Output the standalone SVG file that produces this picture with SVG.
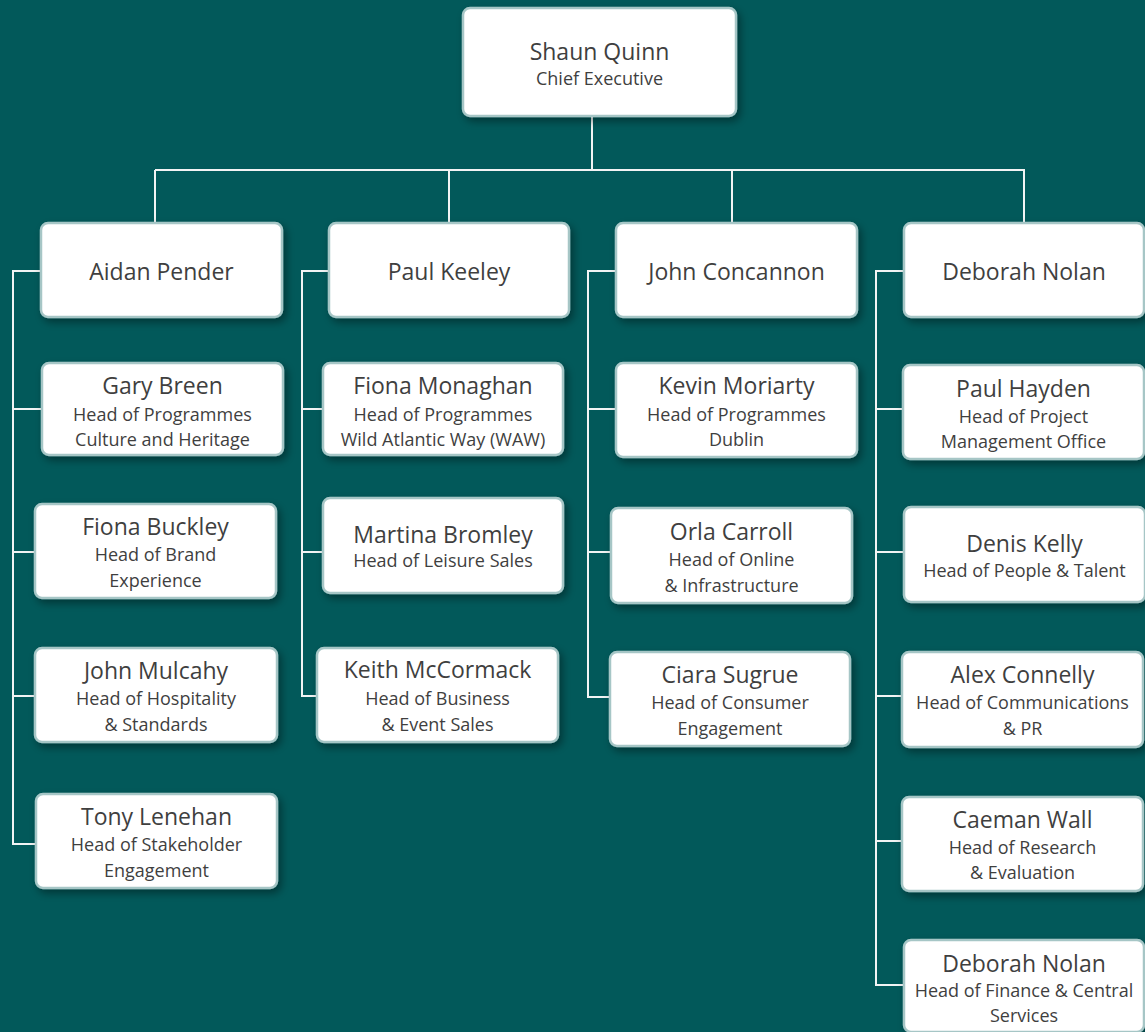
<svg xmlns="http://www.w3.org/2000/svg" width="1145" height="1032" viewBox="0 0 1145 1032">
<defs>
<filter id="sh" x="-10%" y="-10%" width="125%" height="135%">
<feDropShadow dx="3" dy="4" stdDeviation="4" flood-color="#000" flood-opacity="0.4"/>
</filter>
<style>
.box{fill:#fff;stroke:#a6c6c6;stroke-width:2.5;filter:url(#sh)}
.nm{font-family:"Open Sans","Noto Sans",sans-serif;font-size:23px;fill:#3f3f3f;text-anchor:middle}
.tl{font-family:"Open Sans","Noto Sans",sans-serif;font-size:18px;fill:#3f3f3f;text-anchor:middle}
.cn{fill:none;stroke:#f2f4f4;stroke-width:2}
</style>
</defs>
<rect width="1145" height="1032" fill="#02595a"/>
<g id="connectors">
<path class="cn" d="M592 116V170M155 170H1025M155 170V223M449 170V223M732 170V223M1024 170V223"/>
<path class="cn" d="M41 271H13V844H36M13 409H42M13 552H35M13 696H35"/>
<path class="cn" d="M329 271H302V696H317M302 409H323M302 552H323"/>
<path class="cn" d="M616 271H588V697H610M588 409H616M588 552H611"/>
<path class="cn" d="M904 271H876V985H904M876 409H903M876 552H904M876 696H902M876 841H902"/>
</g>
<g id="n-quinn"><rect class="box" x="463" y="8" width="273" height="108" rx="7"/><text class="nm" x="599.5" y="60">Shaun Quinn</text><text class="tl" x="599.5" y="85">Chief Executive</text></g>
<g id="n-pender"><rect class="box" x="41" y="223" width="241" height="94" rx="7"/><text class="nm" x="161.5" y="280">Aidan Pender</text></g>
<g id="n-keeley"><rect class="box" x="329" y="223" width="240" height="94" rx="7"/><text class="nm" x="449" y="280">Paul Keeley</text></g>
<g id="n-concannon"><rect class="box" x="616" y="223" width="241" height="94" rx="7"/><text class="nm" x="736.5" y="280">John Concannon</text></g>
<g id="n-nolan"><rect class="box" x="904" y="223" width="240" height="94" rx="7"/><text class="nm" x="1024" y="280">Deborah Nolan</text></g>

<g id="n-breen"><rect class="box" x="42" y="363" width="241" height="92" rx="7"/><text class="nm" x="162.5" y="394">Gary Breen</text><text class="tl" x="162.5" y="421">Head of Programmes</text><text class="tl" x="162.5" y="446">Culture and Heritage</text></g>
<g id="n-buckley"><rect class="box" x="35" y="504" width="241" height="94" rx="7"/><text class="nm" x="155.5" y="535">Fiona Buckley</text><text class="tl" x="155.5" y="561">Head of Brand</text><text class="tl" x="155.5" y="587">Experience</text></g>
<g id="n-mulcahy"><rect class="box" x="35" y="648" width="242" height="94" rx="7"/><text class="nm" x="156" y="679">John Mulcahy</text><text class="tl" x="156" y="705">Head of Hospitality</text><text class="tl" x="156" y="731">&amp; Standards</text></g>
<g id="n-lenehan"><rect class="box" x="36" y="794" width="241" height="94" rx="7"/><text class="nm" x="156.5" y="825">Tony Lenehan</text><text class="tl" x="156.5" y="851">Head of Stakeholder</text><text class="tl" x="156.5" y="877">Engagement</text></g>

<g id="n-monaghan"><rect class="box" x="323" y="363" width="240" height="92" rx="7"/><text class="nm" x="443" y="394">Fiona Monaghan</text><text class="tl" x="443" y="421">Head of Programmes</text><text class="tl" x="443" y="446">Wild Atlantic Way (WAW)</text></g>
<g id="n-bromley"><rect class="box" x="323" y="498" width="240" height="95" rx="7"/><text class="nm" x="443" y="543">Martina Bromley</text><text class="tl" x="443" y="567">Head of Leisure Sales</text></g>
<g id="n-mccormack"><rect class="box" x="317" y="648" width="241" height="94" rx="7"/><text class="nm" x="437.5" y="678">Keith McCormack</text><text class="tl" x="437.5" y="705">Head of Business</text><text class="tl" x="437.5" y="731">&amp; Event Sales</text></g>

<g id="n-moriarty"><rect class="box" x="616" y="363" width="241" height="94" rx="7"/><text class="nm" x="736.5" y="394">Kevin Moriarty</text><text class="tl" x="736.5" y="421">Head of Programmes</text><text class="tl" x="736.5" y="446">Dublin</text></g>
<g id="n-carroll"><rect class="box" x="611" y="508" width="241" height="95" rx="7"/><text class="nm" x="731.5" y="540">Orla Carroll</text><text class="tl" x="731.5" y="566">Head of Online</text><text class="tl" x="731.5" y="592">&amp; Infrastructure</text></g>
<g id="n-sugrue"><rect class="box" x="610" y="652" width="240" height="94" rx="7"/><text class="nm" x="730" y="683">Ciara Sugrue</text><text class="tl" x="730" y="709">Head of Consumer</text><text class="tl" x="730" y="735">Engagement</text></g>

<g id="n-hayden"><rect class="box" x="903" y="365" width="241" height="94" rx="7"/><text class="nm" x="1023.5" y="397">Paul Hayden</text><text class="tl" x="1023.5" y="423">Head of Project</text><text class="tl" x="1023.5" y="448">Management Office</text></g>
<g id="n-kelly"><rect class="box" x="904" y="507" width="241" height="95" rx="7"/><text class="nm" x="1024.5" y="552">Denis Kelly</text><text class="tl" x="1024.5" y="577">Head of People &amp; Talent</text></g>
<g id="n-connelly"><rect class="box" x="902" y="652" width="241" height="95" rx="7"/><text class="nm" x="1022.5" y="683">Alex Connelly</text><text class="tl" x="1022.5" y="709">Head of Communications</text><text class="tl" x="1022.5" y="735">&amp; PR</text></g>
<g id="n-wall"><rect class="box" x="902" y="797" width="241" height="94" rx="7"/><text class="nm" x="1022.5" y="828">Caeman Wall</text><text class="tl" x="1022.5" y="854">Head of Research</text><text class="tl" x="1022.5" y="879">&amp; Evaluation</text></g>
<g id="n-nolan2"><rect class="box" x="904" y="940" width="240" height="92" rx="7"/><text class="nm" x="1024" y="972">Deborah Nolan</text><text class="tl" x="1024" y="997">Head of Finance &amp; Central</text><text class="tl" x="1024" y="1022">Services</text></g>
</svg>
